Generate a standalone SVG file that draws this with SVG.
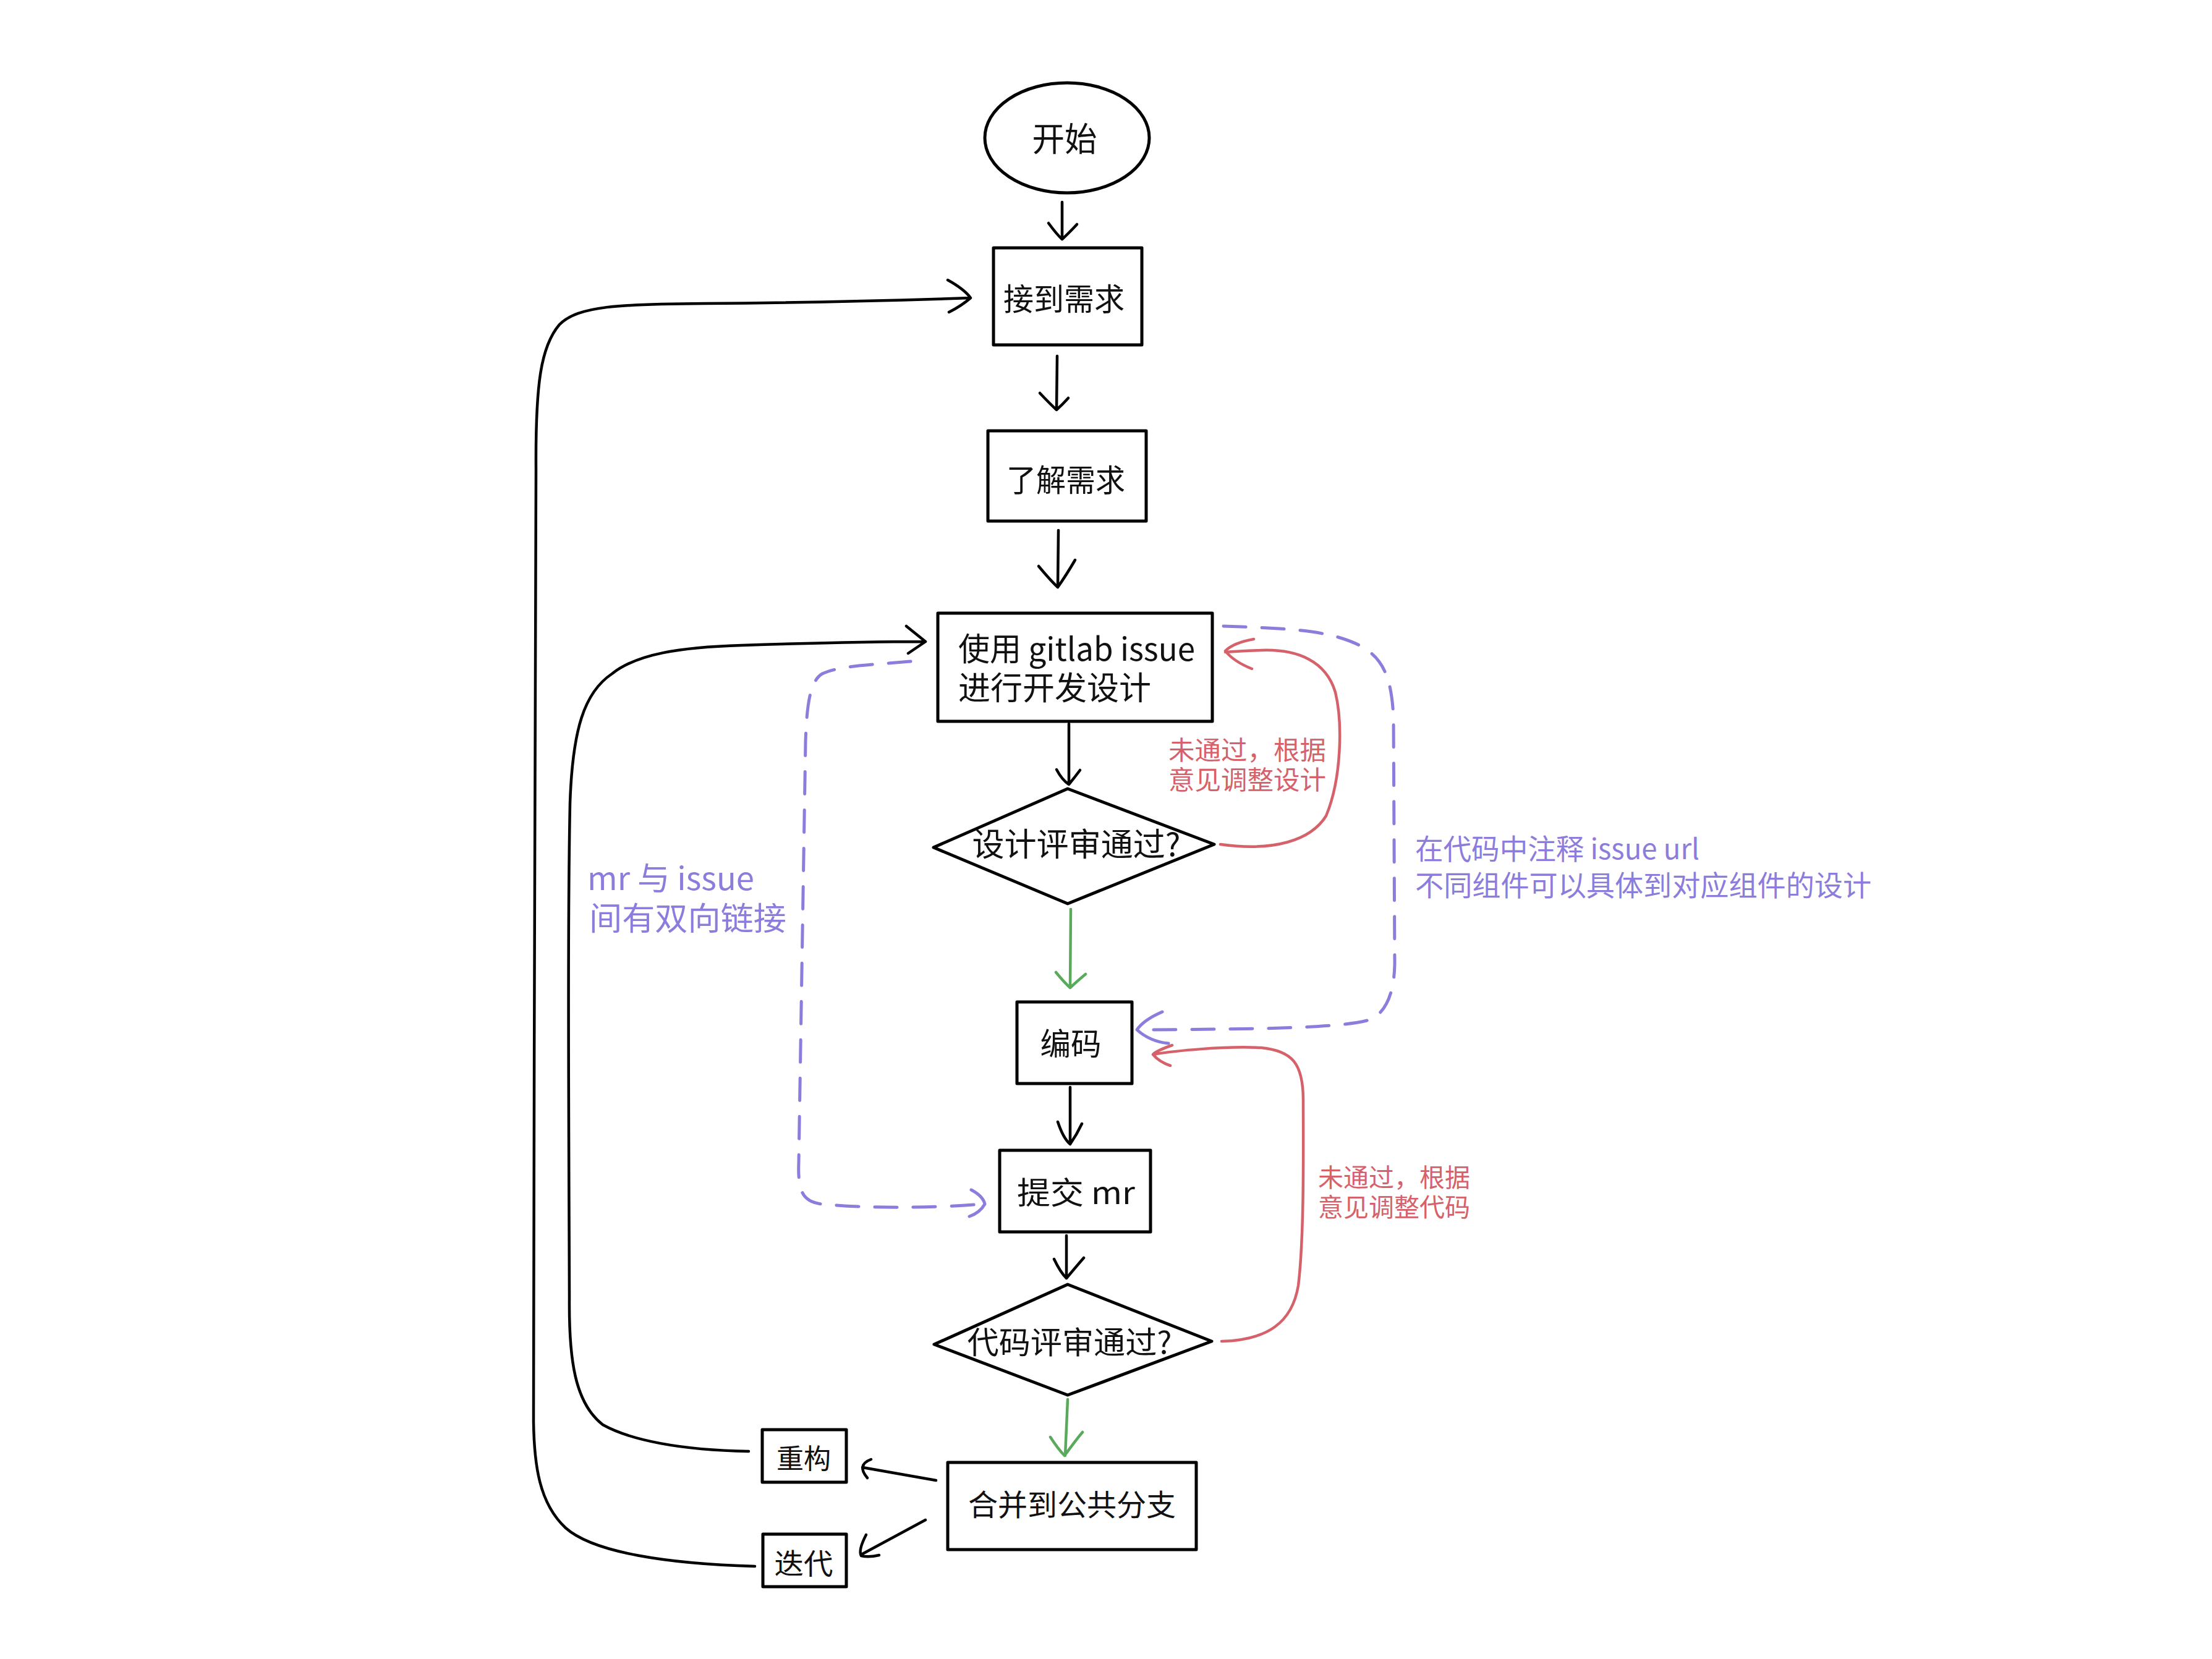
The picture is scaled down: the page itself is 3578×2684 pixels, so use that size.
<svg xmlns="http://www.w3.org/2000/svg" width="3578" height="2684" viewBox="0 0 3578 2684">
<style>
.shape{fill:#fff;stroke:#000;stroke-width:5;stroke-linejoin:round}
.t{font-family:"Noto Sans CJK SC","Noto Sans",sans-serif;fill:#111;dominant-baseline:central}
.c{text-anchor:middle}
.blk{fill:none;stroke:#000;stroke-width:4.5;stroke-linecap:round;stroke-linejoin:round}
.grn{fill:none;stroke:#5aaa5c;stroke-width:4.5;stroke-linecap:round;stroke-linejoin:round}
.red{fill:none;stroke:#d5616a;stroke-width:4.5;stroke-linecap:round;stroke-linejoin:round}
.pur{fill:none;stroke:#8c7cdc;stroke-width:5;stroke-linecap:round;stroke-linejoin:round}
.dash{stroke-dasharray:36 26}
.lr{fill:#d5616a}
.lp{fill:#8c7cdc}
</style>
<rect width="3578" height="2684" fill="#fff"/>
<g id="connectors">
<path class="blk" d="M1718 327 L1718 384 M1696 361 Q1710 380 1718 387 Q1728 378 1742 363"/>
<path class="blk" d="M1710 576 L1709 663 M1682 636 Q1700 655 1709 663 Q1718 655 1728 644"/>
<path class="blk" d="M1712 858 L1711 950 M1680 916 Q1700 940 1711 950 Q1725 930 1739 906"/>
<path class="blk" d="M1729 1171 L1729 1269 M1709 1245 Q1718 1262 1729 1269 Q1738 1258 1747 1246"/>
<path class="blk" d="M1731 1759 L1731 1851 M1711 1815 Q1720 1842 1731 1851 Q1742 1835 1750 1818"/>
<path class="blk" d="M1725 1999 L1725 2068 M1705 2037 Q1715 2058 1725 2068 Q1740 2050 1753 2035"/>
<path class="blk" d="M1514 2395 L1395 2374 M1409 2361 Q1385 2370 1403 2391"/>
<path class="blk" d="M1497 2459 L1395 2514 M1401 2483 Q1388 2508 1393 2517 Q1405 2520 1422 2516"/>
<path class="blk" stroke-width="5" d="M1221 2534 C1080 2530 960 2512 915 2472 C872 2432 864 2370 863 2300 C862 1800 868 1200 867 760 C866 620 875 560 905 525 C935 495 1000 492 1140 491 C1300 490 1450 486 1570 482 M1533 453 Q1560 468 1570 482 Q1555 495 1535 505"/>
<path class="blk" stroke-width="5" d="M1211 2348 C1100 2346 1020 2330 975 2305 C930 2270 920 2200 921 2100 C920 1800 918 1500 922 1300 C926 1180 945 1120 990 1090 C1030 1058 1100 1047 1200 1044 C1320 1040 1420 1038 1495 1038 M1466 1013 L1497 1038 L1469 1057"/>
<path class="grn" d="M1732 1471 L1731 1598 M1708 1573 Q1722 1590 1731 1598 Q1745 1585 1756 1576"/>
<path class="grn" d="M1727 2264 L1723 2355 M1699 2325 Q1712 2345 1722 2355 Q1740 2330 1751 2317"/>
<path class="red" d="M1974 1366 C2060 1378 2120 1360 2145 1320 C2170 1260 2172 1170 2160 1120 C2145 1070 2100 1050 2040 1052 C2010 1053 1995 1054 1982 1055 M2028 1034 Q1995 1040 1982 1053 Q1995 1070 2025 1082"/>
<path class="red" d="M1976 2170 C2050 2168 2090 2140 2100 2080 C2110 2000 2108 1850 2108 1780 C2108 1720 2090 1700 2040 1695 C1980 1692 1900 1700 1865 1706 M1896 1691 Q1870 1700 1865 1706 Q1875 1718 1893 1724"/>
<path class="pur dash" d="M1979 1013 C2060 1016 2120 1018 2165 1031 C2230 1050 2250 1080 2254 1160 L2256 1560 C2255 1610 2240 1640 2215 1650 C2170 1663 2050 1665 1842 1666"/>
<path class="pur" d="M1880 1637 Q1850 1650 1839 1666 Q1860 1685 1890 1688"/>
<path class="pur dash" d="M1473 1070 C1420 1075 1360 1076 1330 1090 C1310 1102 1305 1140 1303 1200 L1292 1880 C1290 1930 1300 1945 1330 1948 C1400 1955 1500 1955 1590 1948"/>
<path class="pur" d="M1571 1925 Q1590 1935 1593 1948 Q1585 1962 1568 1968"/>
</g>
<g id="start">
<ellipse class="shape" cx="1726" cy="223" rx="133" ry="89"/>
<text class="t c" x="1722" y="221" font-size="54" textLength="105" lengthAdjust="spacingAndGlyphs">开始</text>
</g>
<g id="receive">
<rect class="shape" x="1607" y="401" width="240" height="157"/>
<text class="t c" x="1721" y="480" font-size="50" textLength="196" lengthAdjust="spacingAndGlyphs">接到需求</text>
</g>
<g id="understand">
<rect class="shape" x="1598" y="697" width="256" height="146"/>
<text class="t c" x="1724" y="773" font-size="50" textLength="192" lengthAdjust="spacingAndGlyphs">了解需求</text>
</g>
<g id="design">
<rect class="shape" x="1517" y="992" width="444" height="175"/>
<text class="t" x="1550" y="1046" font-size="52" textLength="383" lengthAdjust="spacingAndGlyphs">使用 gitlab issue</text>
<text class="t" x="1550" y="1109" font-size="52" textLength="312" lengthAdjust="spacingAndGlyphs">进行开发设计</text>
</g>
<g id="design-review">
<polygon class="shape" points="1727,1276 1964,1366 1727,1462 1510,1371"/>
<text class="t c" x="1741" y="1362" font-size="52" textLength="337" lengthAdjust="spacingAndGlyphs">设计评审通过?</text>
</g>
<g id="coding">
<rect class="shape" x="1645" y="1621" width="186" height="132"/>
<text class="t c" x="1732" y="1685" font-size="50" textLength="99" lengthAdjust="spacingAndGlyphs">编码</text>
</g>
<g id="submit-mr">
<rect class="shape" x="1617" y="1861" width="244" height="132"/>
<text class="t" x="1645" y="1926" font-size="50" textLength="191" lengthAdjust="spacingAndGlyphs">提交 mr</text>
</g>
<g id="code-review">
<polygon class="shape" points="1727,2078 1960,2170 1727,2257 1511,2175"/>
<text class="t c" x="1730" y="2168" font-size="50" textLength="331" lengthAdjust="spacingAndGlyphs">代码评审通过?</text>
</g>
<g id="merge">
<rect class="shape" x="1533" y="2366" width="402" height="141"/>
<text class="t c" x="1734" y="2431" font-size="48" textLength="336" lengthAdjust="spacingAndGlyphs">合并到公共分支</text>
</g>
<g id="refactor">
<rect class="shape" x="1233" y="2313" width="136" height="85"/>
<text class="t c" x="1300" y="2357" font-size="44" textLength="88" lengthAdjust="spacingAndGlyphs">重构</text>
</g>
<g id="iterate">
<rect class="shape" x="1234" y="2482" width="135" height="85"/>
<text class="t c" x="1300" y="2526" font-size="46" textLength="95" lengthAdjust="spacingAndGlyphs">迭代</text>
</g>
<g id="labels">
<text class="t lr" x="1890" y="1210" font-size="42" textLength="255" lengthAdjust="spacingAndGlyphs">未通过，根据</text>
<text class="t lr" x="1890" y="1258" font-size="42" textLength="255" lengthAdjust="spacingAndGlyphs">意见调整设计</text>
<text class="t lr" x="2132" y="1902" font-size="41" textLength="246" lengthAdjust="spacingAndGlyphs">未通过，根据</text>
<text class="t lr" x="2132" y="1950" font-size="41" textLength="246" lengthAdjust="spacingAndGlyphs">意见调整代码</text>
<text class="t lp" x="2289" y="1370" font-size="46" textLength="460" lengthAdjust="spacingAndGlyphs">在代码中注释 issue url</text>
<text class="t lp" x="2289" y="1429" font-size="46" textLength="738" lengthAdjust="spacingAndGlyphs">不同组件可以具体到对应组件的设计</text>
<text class="t lp" x="950" y="1417" font-size="52" textLength="270" lengthAdjust="spacingAndGlyphs">mr 与 issue</text>
<text class="t lp" x="953" y="1482" font-size="52" textLength="319" lengthAdjust="spacingAndGlyphs">间有双向链接</text>
</g>
</svg>
